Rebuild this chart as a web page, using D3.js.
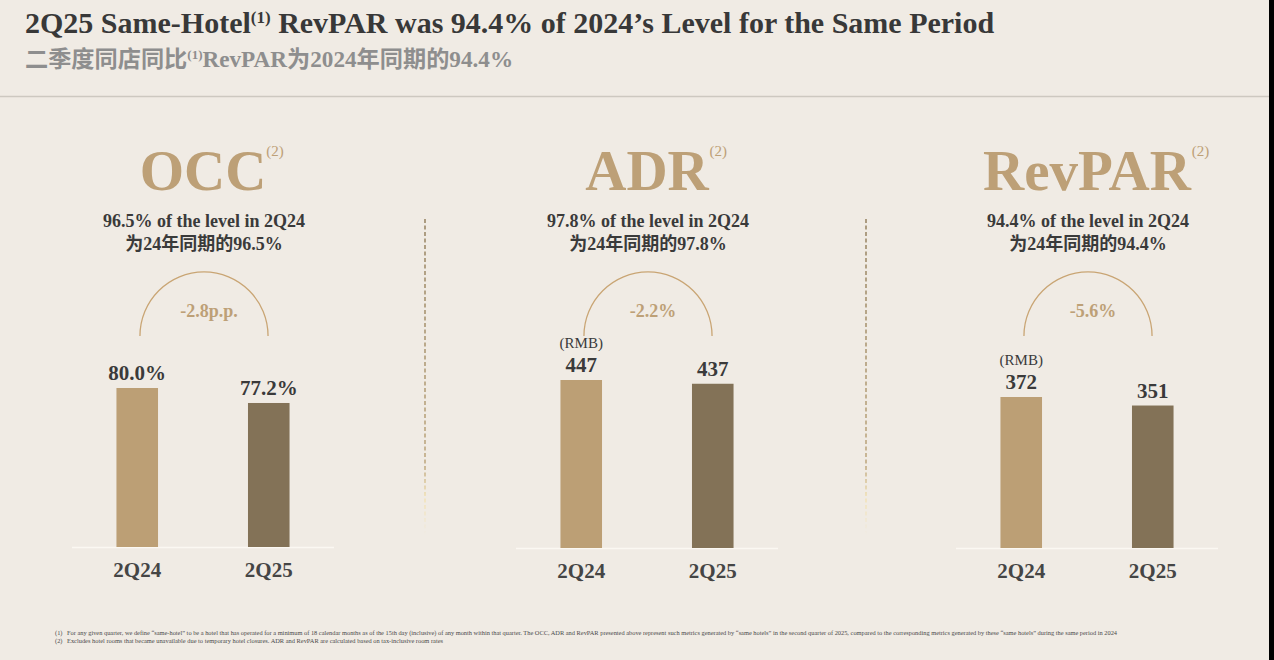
<!DOCTYPE html>
<html>
<head>
<meta charset="utf-8">
<script src="https://cdn.jsdelivr.net/npm/d3@7"></script>
<style>
  html, body { margin: 0; padding: 0; background: #f0ebe4; }
  svg { display: block; }
  text { font-family: "Liberation Serif", "Noto Sans CJK SC", serif; }
</style>
</head>
<body>
<svg id="chart" width="1274" height="660"></svg>
<script>
// ---------- DATA ----------
const metrics = ["OCC", "ADR", "RevPAR"];
const categories = ["2Q24", "2Q25"];
const values2Q24 = [80.0, 447, 372];
const values2Q25 = [77.2, 437, 351];
const valueFormats = [".1f%", "d", "d"];
const unitLabels = ["", "(RMB)", "(RMB)"];
const ratioEn = ["96.5% of the level in 2Q24", "97.8% of the level in 2Q24", "94.4% of the level in 2Q24"];
const ratioZh = ["为24年同期的96.5%", "为24年同期的97.8%", "为24年同期的94.4%"];
const changeLabels = ["-2.8p.p.", "-2.2%", "-5.6%"];
const domainLows = [50.3, 0, 0];
const titleMain = ["2Q25 Same-Hotel", "(1)", " RevPAR was 94.4% of 2024\u2019s Level for the Same Period"];
const titleSub = ["二季度同店同比", "(1)", "RevPAR为2024年同期的94.4%"];
const footnoteMarks = ["(1)", "(2)"];
const footnotes = [
  "For any given quarter, we define \u201csame-hotel\u201d to be a hotel that has operated for a minimum of 18 calendar months as of the 15th day (inclusive) of any month within that quarter. The OCC, ADR and RevPAR presented above represent such metrics generated by \u201csame hotels\u201d in the second quarter of 2025, compared to the corresponding metrics generated by these \u201csame hotels\u201d during the same period in 2024",
  "Excludes hotel rooms that became unavailable due to temporary hotel closures. ADR and RevPAR are calculated based on tax-inclusive room rates"
];

// ---------- LAYOUT ----------
const W = 1274, H = 660;
const panelCenters = [203, 647, 1087];
const baselines = [547, 548, 548];
const barMaxHeights = [159, 168, 151];
const gold = "#bda077";
const barColors = ["#bc9f75", "#837257"];
const dark = "#3a3a3a";

const svg = d3.select("#chart");
svg.append("rect").attr("width", W).attr("height", H).attr("fill", "#f0ebe4");

const defs = svg.append("defs");

// Title
const t1 = svg.append("text").attr("x", 25).attr("y", 33)
  .attr("font-size", 30).attr("font-weight", "bold").attr("fill", "#383838");
t1.append("tspan").text(titleMain[0]);
t1.append("tspan").attr("font-size", 17).attr("dy", -10).text(titleMain[1]);
t1.append("tspan").attr("dy", 10).text(titleMain[2]);

const t2 = svg.append("text").attr("x", 25).attr("y", 67)
  .attr("font-size", 23.2).attr("font-weight", "bold").attr("fill", "#8e8e8e");
t2.append("tspan").text(titleSub[0]);
t2.append("tspan").attr("font-size", 13).attr("dy", -8).text(titleSub[1]);
t2.append("tspan").attr("dy", 8).text(titleSub[2]);

svg.append("line").attr("x1", 0).attr("x2", 1269).attr("y1", 96.5).attr("y2", 96.5)
  .attr("stroke", "#cdc8c0").attr("stroke-width", 1.5);

// Divider gradient
const dg = defs.append("linearGradient").attr("id", "divGrad")
  .attr("gradientUnits", "userSpaceOnUse").attr("x1", 0).attr("x2", 0).attr("y1", 219).attr("y2", 535);
dg.append("stop").attr("offset", 0).attr("stop-color", "#9a8767");
dg.append("stop").attr("offset", 0.78).attr("stop-color", "#c0aa82");
dg.append("stop").attr("offset", 0.88).attr("stop-color", "#f2e2b6");
dg.append("stop").attr("offset", 1).attr("stop-color", "#f0ebe4");

[425, 866].forEach(x => {
  svg.append("line").attr("x1", x).attr("x2", x).attr("y1", 219).attr("y2", 535)
    .attr("stroke", "url(#divGrad)").attr("stroke-width", 1.6).attr("stroke-dasharray", "4,2.5");
});

const arcGen = d3.arc().innerRadius(63.4).outerRadius(64.7).startAngle(-Math.PI / 2).endAngle(Math.PI / 2);

metrics.forEach((m, i) => {
  const cx = panelCenters[i];
  const base = baselines[i];
  const g = svg.append("g");

  // Big metric label
  const big = g.append("text").attr("x", cx).attr("y", 190).attr("text-anchor", "middle")
    .attr("font-size", 57).attr("font-weight", "bold").attr("fill", gold).text(m);
  const bb = big.node().getBBox();
  g.append("text").attr("x", bb.x + bb.width).attr("y", 156)
    .attr("font-size", 15).attr("fill", gold).text("(2)");

  // Ratio lines
  g.append("text").attr("x", cx + 1).attr("y", 227).attr("text-anchor", "middle")
    .attr("font-size", 18).attr("font-weight", "bold").attr("fill", dark).text(ratioEn[i]);
  g.append("text").attr("x", cx + 1).attr("y", 250).attr("text-anchor", "middle")
    .attr("font-size", 18).attr("font-weight", "bold").attr("fill", dark).text(ratioZh[i]);

  // Arc with gradient
  const gid = "arcGrad" + i;
  const ag = defs.append("linearGradient").attr("id", gid)
    .attr("gradientUnits", "userSpaceOnUse").attr("x1", 0).attr("x2", 0).attr("y1", 271).attr("y2", 340);
  ag.append("stop").attr("offset", 0).attr("stop-color", "#c9a574");
  ag.append("stop").attr("offset", 0.35).attr("stop-color", "#d8bf9a");
  ag.append("stop").attr("offset", 0.8).attr("stop-color", "#ebe2d4");
  ag.append("stop").attr("offset", 1).attr("stop-color", "#f0ebe4");
  g.append("path").attr("transform", `translate(${cx + 1},336)`).attr("d", arcGen())
    .attr("fill", `url(#${gid})`);
  g.append("text").attr("x", cx + 6).attr("y", 317).attr("text-anchor", "middle")
    .attr("font-size", 18).attr("font-weight", "bold").attr("fill", gold).text(changeLabels[i]);

  // Scales
  const x = d3.scaleBand().domain(categories).range([cx - 131, cx + 131])
    .paddingInner(0.684).paddingOuter(0.338);
  const vals = [values2Q24[i], values2Q25[i]];
  const y = d3.scaleLinear().domain([domainLows[i], values2Q24[i]])
    .range([base, base - barMaxHeights[i]]);

  // Baseline
  g.append("line").attr("x1", cx - 131).attr("x2", cx + 131).attr("y1", base + 0.5).attr("y2", base + 0.5)
    .attr("stroke", "#fbf8f2").attr("stroke-width", 1.5);

  // Bars
  g.selectAll("rect.bar").data(categories).join("rect").attr("class", "bar")
    .attr("x", d => x(d)).attr("width", x.bandwidth())
    .attr("y", (d, k) => y(vals[k])).attr("height", (d, k) => base - y(vals[k]))
    .attr("fill", (d, k) => barColors[k]);

  const fmt = valueFormats[i] === "d" ? d3.format("d") : (v => d3.format(".1f")(v) + "%");

  // Value labels
  g.selectAll("text.val").data(categories).join("text").attr("class", "val")
    .attr("x", d => x(d) + x.bandwidth() / 2).attr("y", (d, k) => y(vals[k]) - 8)
    .attr("text-anchor", "middle").attr("font-size", 21).attr("font-weight", "bold")
    .attr("fill", dark).text((d, k) => fmt(vals[k]));

  if (unitLabels[i]) {
    g.append("text").attr("x", x(categories[0]) + x.bandwidth() / 2).attr("y", y(vals[0]) - 32)
      .attr("text-anchor", "middle").attr("font-size", 15).attr("fill", dark).text(unitLabels[i]);
  }

  // Category axis labels
  g.selectAll("text.cat").data(categories).join("text").attr("class", "cat")
    .attr("x", d => x(d) + x.bandwidth() / 2).attr("y", base + 30)
    .attr("text-anchor", "middle").attr("font-size", 21).attr("font-weight", "bold")
    .attr("fill", "#454545").text(d => d);
});

// Footnotes
footnotes.forEach((f, i) => {
  const yy = 635 + i * 8;
  svg.append("text").attr("x", 55).attr("y", yy).attr("font-size", 6.4).attr("fill", "#4a4a4a").text(footnoteMarks[i]);
  svg.append("text").attr("x", 67).attr("y", yy).attr("font-size", 6.4).attr("fill", "#4a4a4a")
    .attr("textLength", i === 0 ? 1050 : 376).attr("lengthAdjust", "spacingAndGlyphs").text(f);
});

// Right black strip
svg.append("rect").attr("x", 1269).attr("y", 0).attr("width", 5).attr("height", H).attr("fill", "#000");
</script>
</body>
</html>
